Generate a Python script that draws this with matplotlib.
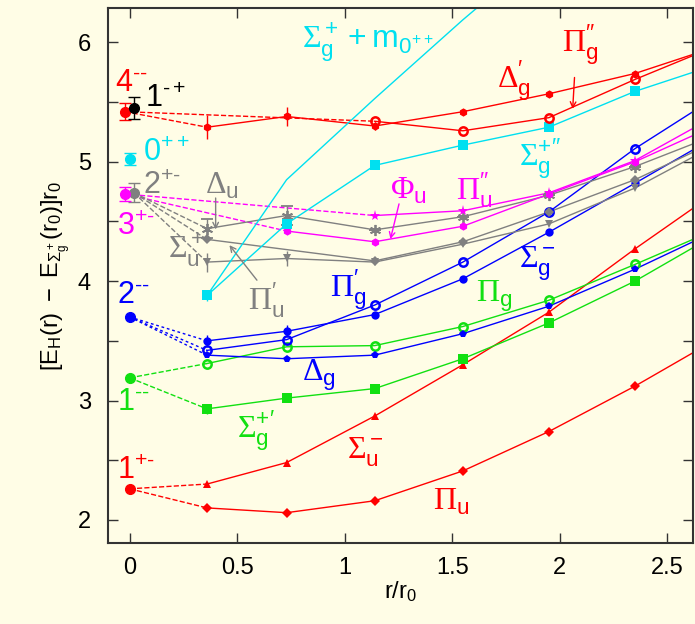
import numpy as np
import matplotlib
matplotlib.use('Agg')
import matplotlib.pyplot as plt

plt.rcParams['font.family'] = ['Liberation Sans', 'DejaVu Sans']
plt.rcParams['mathtext.fontset'] = 'custom'
plt.rcParams['mathtext.rm'] = 'Liberation Serif'
plt.rcParams['mathtext.sf'] = 'Liberation Sans'
plt.rcParams['mathtext.it'] = 'Liberation Sans'
plt.rcParams['mathtext.default'] = 'sf'

# separations where the potentials were measured, plus right end of the fitted curves
r_lat = [0.36, 0.73, 1.14, 1.55, 1.95, 2.35]
r_max = 2.62

# hybrid potentials (None = no point there), value where each curve leaves the plot
pi_u = [2.10, 2.06, 2.16, 2.41, 2.74, 3.12]
pi_u_end = 3.40
sigma_u_m = [2.30, 2.48, 2.87, 3.30, 3.74, 4.27]
sigma_u_m_end = 4.61
sigma_g_p1 = [2.93, 3.02, 3.10, 3.35, 3.65, 4.00]
sigma_g_p1_end = 4.28
pi_g = [3.31, 3.45, 3.46, 3.62, 3.84, 4.14]
pi_g_end = 4.35
delta_g = [3.38, 3.35, 3.38, 3.56, 3.79, 4.10]
delta_g_end = 4.33
sigma_g_m = [3.50, 3.58, 3.72, 4.02, 4.41, 4.82]
sigma_g_m_end = 5.10
pi_g_p = [3.42, 3.51, 3.80, 4.16, 4.58, 5.11]
pi_g_p_end = 5.42
sigma_u_p = [4.16, 4.19, 4.16, 4.31, 4.48, 4.78]
sigma_u_p_end = 5.04
pi_u_p = [4.35, None, 4.17, 4.33, 4.58, 4.85]
pi_u_p_end = 5.08
delta_u = [4.44, 4.55, 4.43, 4.54, 4.72, 4.96]
delta_u_end = 5.15
phi_u = [None, 4.42, 4.33, 4.46, 4.73, 5.00]
phi_u_end = 5.22
pi_u_pp = [None, None, 4.55, 4.59, 4.74, 5.01]
pi_u_pp_end = 5.28
sigma_g_p2 = [3.88, 4.48, 4.97, 5.14, 5.29, 5.59]
sigma_g_p2_end = 5.75
delta_g_p = [5.29, 5.38, 5.30, 5.42, 5.57, 5.74]
delta_g_p_end = 5.90
pi_g_pp = [None, None, 5.34, 5.26, 5.37, 5.69]
pi_g_pp_end = 5.89
# Sigma_g^+ + glueball mass (line only)
sigma_m0 = [3.88, 4.85, 5.53, 6.19, 6.80]

# error bars on the small-r points
err_delta_g_p = [0.10, 0.08, 0.03, 0, 0, 0]
err_sigma_g_p2 = [0.05, 0.08, 0, 0, 0, 0]
err_delta_u = [0.08, 0.08, 0, 0, 0, 0]
err_sigma_u_p = [0.08, 0.06, 0, 0, 0, 0]
err_sigma_g_m = [0.05, 0.05, 0, 0, 0, 0]
err_sigma_g_p1 = [0.04, 0.02, 0, 0, 0, 0]
err_sigma_u_m = [0.02, 0.02, 0, 0, 0, 0]

# glueball / gluelump states at r = 0
states = ['4--', '1-+', '0++', '2+-', '3+-', '2--', '1--', '1+-']
state_r = [-0.02, 0.02, 0.0, 0.02, -0.02, 0.0, 0.0, 0.0]
state_e = [5.42, 5.45, 5.02, 4.74, 4.73, 3.70, 3.19, 2.26]
state_err = [0.07, 0.09, 0.05, 0.08, 0.06, 0, 0, 0]

RED, GREEN, BLUE = '#ff0000', '#11e011', '#0000ff'
CYAN, MAG, GRAY = '#00e0f0', '#ff00ff', '#808080'

fig = plt.figure(figsize=(6.95, 6.24), dpi=100, facecolor='#fffde6')
ax = fig.add_axes([0.155, 0.130, 0.842, 0.857])
ax.set_facecolor('#fffde6')


def curve(vals, end, color, marker, err=None, ms=6, hollow=False):
    xs = [r for r, v in zip(r_lat, vals) if v is not None]
    ys = [v for v in vals if v is not None]
    ax.plot(xs + [r_max], ys + [end], color=color, lw=1.0, zorder=2)
    if err is None:
        es = None
    else:
        es = [e for e, v in zip(err, vals) if v is not None]
    if hollow:
        kw = dict(mfc='none', mew=1.8)
    elif isinstance(marker, tuple):
        kw = dict(mew=1.3)
    else:
        kw = dict(mfc=color, mew=0)
    ax.errorbar(xs, ys, yerr=es, fmt='', linestyle='none', marker=marker,
                color=color, ms=ms, capsize=4, elinewidth=1.0, capthick=1.0,
                zorder=3, **kw)


def link(i, vals, color, ls='--'):
    k = next(j for j, v in enumerate(vals) if v is not None)
    ax.plot([state_r[i], r_lat[k]], [state_e[i], vals[k]], color=color,
            ls=ls, lw=1.0, zorder=1)


curve(pi_u, pi_u_end, RED, 'D', ms=5)
curve(sigma_u_m, sigma_u_m_end, RED, '^', err_sigma_u_m)
curve(sigma_g_p1, sigma_g_p1_end, GREEN, 's', err_sigma_g_p1, ms=7)
curve(pi_g, pi_g_end, GREEN, 'o', hollow=True)
curve(delta_g, delta_g_end, BLUE, 'p')
curve(sigma_g_m, sigma_g_m_end, BLUE, 'o', err_sigma_g_m)
curve(pi_g_p, pi_g_p_end, BLUE, 'o', hollow=True)
curve(sigma_u_p, sigma_u_p_end, GRAY, 'v', err_sigma_u_p)
curve(pi_u_p, pi_u_p_end, GRAY, 'D', ms=5)
curve(delta_u, delta_u_end, GRAY, (6, 2, 0), err_delta_u, ms=8)
curve(phi_u, phi_u_end, MAG, 'h')
curve(pi_u_pp, pi_u_pp_end, MAG, '*', ms=8)
curve(sigma_g_p2, sigma_g_p2_end, CYAN, 's', err_sigma_g_p2, ms=7)
curve(delta_g_p, delta_g_p_end, RED, 'h', err_delta_g_p)
curve(pi_g_pp, pi_g_pp_end, RED, 'o', hollow=True)
ax.plot(r_lat[:len(sigma_m0)], sigma_m0, color=CYAN, lw=1.0, zorder=2)

# dashed lines from r = 0 states to the potentials they go into
link(0, delta_g_p, RED)
link(0, pi_g_pp, RED)
link(4, phi_u, MAG)
link(4, pi_u_pp, MAG)
for v in (sigma_u_p, pi_u_p, delta_u):
    link(3, v, GRAY)
for v in (sigma_g_m, pi_g_p, delta_g):
    link(5, v, BLUE, ls=(0, (2, 2)))
link(6, pi_g, GREEN)
link(6, sigma_g_p1, GREEN)
link(7, sigma_u_m, RED)
link(7, pi_u, RED)

state_col = [RED, 'black', CYAN, GRAY, MAG, BLUE, GREEN, RED]
for i in range(len(states)):
    ax.errorbar(state_r[i], state_e[i], yerr=state_err[i] or None, fmt='o',
                color=state_col[i], ms=7, capsize=4, elinewidth=1.0, zorder=4)

# state labels (short hyphens in the superscripts, like the original)
lab_xy = [(-0.07, 5.66), (0.07, 5.53), (0.06, 5.07), (0.06, 4.80),
          (-0.06, 4.45), (-0.06, 3.88), (-0.06, 2.99), (-0.06, 2.41)]
for i, s in enumerate(states):
    sup = s[1:].replace('-', '\u2010')
    ax.text(lab_xy[i][0], lab_xy[i][1], '$%s^{%s}$' % (s[0], sup),
            color=state_col[i], fontsize=22, ha='left', va='center')

fs = 23
ax.text(0.80, 6.0, r'$\mathrm{Σ}_g^+ + m_{0^{++}}$', color=CYAN, fontsize=fs, va='center')
ax.text(2.01, 5.98, r"$\mathrm{Π}_g^{\prime\prime}$", color=RED, fontsize=fs, va='center')
ax.text(1.71, 5.68, r"$\mathrm{Δ}_g^{\prime}$", color=RED, fontsize=fs, va='center')
ax.text(1.81, 5.03, r"$\mathrm{Σ}_g^{+\prime\prime}$", color=CYAN, fontsize=fs, va='center')
ax.text(1.21, 4.76, r"$\mathrm{Φ}_u$", color=MAG, fontsize=fs, va='center')
ax.text(1.52, 4.76, r"$\mathrm{Π}_u^{\prime\prime}$", color=MAG, fontsize=fs, va='center')
ax.text(0.35, 4.80, r"$\mathrm{Δ}_u$", color=GRAY, fontsize=fs, va='center')
ax.text(0.18, 4.26, r"$\mathrm{Σ}_u^+$", color=GRAY, fontsize=fs, va='center')
ax.text(0.55, 3.84, r"$\mathrm{Π}_u^{\prime}$", color=GRAY, fontsize=fs, va='center')
ax.text(0.93, 3.93, r"$\mathrm{Π}_g^{\prime}$", color=BLUE, fontsize=fs, va='center')
ax.text(1.81, 4.15, r"$\mathrm{Σ}_g^-$", color=BLUE, fontsize=fs, va='center')
ax.text(1.61, 3.87, r"$\mathrm{Π}_g$", color=GREEN, fontsize=fs, va='center')
ax.text(0.80, 3.21, r"$\mathrm{Δ}_g$", color=BLUE, fontsize=fs, va='center')
ax.text(0.50, 2.75, r"$\mathrm{Σ}_g^{+\prime}$", color=GREEN, fontsize=fs, va='center')
ax.text(1.01, 2.57, r"$\mathrm{Σ}_u^-$", color=RED, fontsize=fs, va='center')
ax.text(1.41, 2.15, r"$\mathrm{Π}_u$", color=RED, fontsize=fs, va='center')

# arrows pointing at crowded curves
arw = dict(arrowstyle='->', lw=1.0)
ax.annotate('', xy=(2.06, 5.42), xytext=(2.07, 5.73), arrowprops=dict(arw, color=RED))
ax.annotate('', xy=(1.21, 4.33), xytext=(1.256, 4.67), arrowprops=dict(arw, color=MAG))
ax.annotate('', xy=(0.40, 4.41), xytext=(0.40, 4.72), arrowprops=dict(arw, color=GRAY))
ax.annotate('', xy=(0.456, 4.32), xytext=(0.60, 3.99), arrowprops=dict(arw, color=GRAY))

ax.set_xlim(-0.102, r_max)
ax.set_ylim(1.807, 6.288)
ax.set_xticks([0, 0.5, 1, 1.5, 2, 2.5])
ax.set_xticklabels(['0', '0.5', '1', '1.5', '2', '2.5'])
ax.set_yticks(np.arange(2, 6.01, 0.5))
ax.set_yticklabels(['2', '', '3', '', '4', '', '5', '', '6'])
ax.tick_params(direction='in', length=7, width=1.0, top=True, right=True,
               labelsize=17, color='#333333')
ax.tick_params(axis='y', pad=12)
ax.tick_params(axis='x', pad=10)
for s in ax.spines.values():
    s.set_color('#333333')
    s.set_linewidth(1.5)

ax.set_xlabel(r'$r/r_0$', fontsize=17, labelpad=0)
ax.set_ylabel(r'$[E_H(r)\ -\ E_{\Sigma_g^+}(r_0)]r_0$', fontsize=17, labelpad=4)

fig.savefig('out.png', dpi=100, facecolor=fig.get_facecolor())
